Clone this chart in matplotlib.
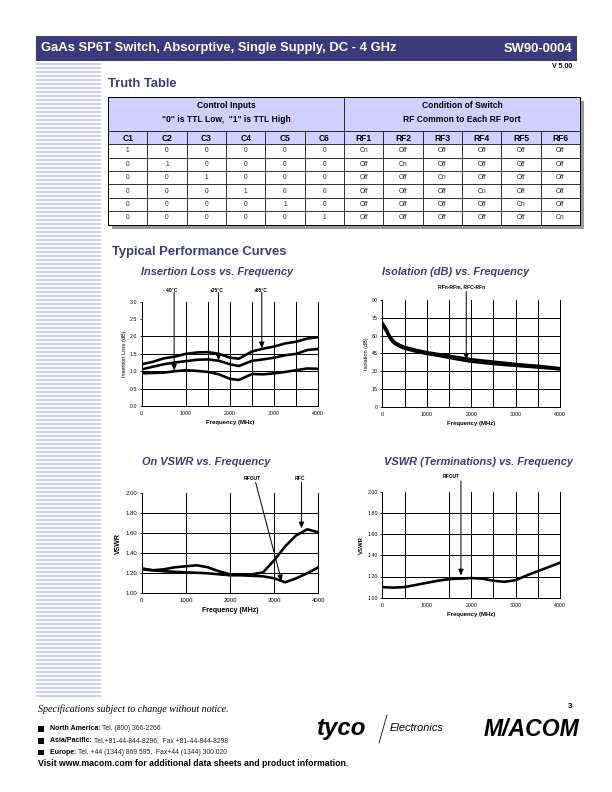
import matplotlib
matplotlib.use("Agg")
import matplotlib.pyplot as plt
from matplotlib.patches import Rectangle

plt.rcParams['font.family'] = ['Liberation Sans', 'DejaVu Sans']

NAVY = '#3b3a7c'
LAV = '#ccccff'
W, H = 612, 792

# ---- truth table ----
ctrl_cols = ['C1', 'C2', 'C3', 'C4', 'C5', 'C6']
rf_cols = ['RF1', 'RF2', 'RF3', 'RF4', 'RF5', 'RF6']
ctrl_rows = [
    [1, 0, 0, 0, 0, 0],
    [0, 1, 0, 0, 0, 0],
    [0, 0, 1, 0, 0, 0],
    [0, 0, 0, 1, 0, 0],
    [0, 0, 0, 0, 1, 0],
    [0, 0, 0, 0, 0, 1],
]
rf_rows = [
    ['On', 'Off', 'Off', 'Off', 'Off', 'Off'],
    ['Off', 'On', 'Off', 'Off', 'Off', 'Off'],
    ['Off', 'Off', 'On', 'Off', 'Off', 'Off'],
    ['Off', 'Off', 'Off', 'On', 'Off', 'Off'],
    ['Off', 'Off', 'Off', 'Off', 'On', 'Off'],
    ['Off', 'Off', 'Off', 'Off', 'Off', 'On'],
]

# ---- insertion loss (dB) ----
il_freq = [0, 250, 500, 750, 1000, 1250, 1500, 1750, 2000, 2200, 2500, 2750, 3000, 3250, 3500, 3750, 4000]
il_p85 = [1.20, 1.27, 1.37, 1.42, 1.50, 1.54, 1.55, 1.50, 1.39, 1.36, 1.57, 1.65, 1.71, 1.80, 1.85, 1.94, 1.98]
il_p25 = [1.05, 1.13, 1.20, 1.25, 1.29, 1.33, 1.34, 1.30, 1.20, 1.15, 1.30, 1.34, 1.39, 1.46, 1.50, 1.61, 1.64]
il_m40 = [0.94, 0.95, 0.96, 1.00, 1.03, 1.01, 0.98, 0.91, 0.78, 0.75, 0.92, 0.91, 0.94, 0.98, 1.03, 1.08, 1.07]

# ---- isolation (dB) ----
iso_freq = [0, 50, 100, 150, 200, 250, 300, 400, 500, 750, 1000, 1250, 1500, 1750, 2000,
            2250, 2500, 2750, 3000, 3250, 3500, 3750, 4000]
iso_hi = [71, 68, 65, 61, 58, 55.5, 54, 52, 50.5, 48, 46, 44.5, 43, 41.5, 40,
          39, 38, 37, 36, 35.2, 34.5, 33.5, 32.5]
iso_lo = [69, 66, 63, 59, 56, 54, 52.5, 50.5, 49, 46.5, 44.5, 43, 41.2, 39.5, 38,
          37, 36, 35.2, 34.5, 33.8, 33.0, 32.3, 31.5]

# ---- on VSWR ----
vs_freq = [0, 250, 500, 750, 1000, 1250, 1500, 1750, 2000, 2250, 2500, 2750, 3000, 3250, 3500, 3750, 4000]
vs_rfc = [1.25, 1.23, 1.24, 1.26, 1.27, 1.28, 1.26, 1.22, 1.19, 1.19, 1.19, 1.21, 1.33, 1.47, 1.58, 1.64, 1.61]
vs_rfout = [1.24, 1.23, 1.22, 1.215, 1.21, 1.205, 1.20, 1.19, 1.18, 1.18, 1.175, 1.17, 1.15, 1.11, 1.15, 1.20, 1.26]

# ---- VSWR terminations ----
term_rfout = [1.10, 1.095, 1.10, 1.12, 1.14, 1.16, 1.175, 1.18, 1.185, 1.18, 1.16, 1.15, 1.165, 1.21, 1.25, 1.29, 1.33]


fig = plt.figure(figsize=(W / 72, H / 72), dpi=72)
page = fig.add_axes([0, 0, 1, 1])
page.set_xlim(0, W)
page.set_ylim(H, 0)
page.axis('off')


def px_axes(x0, y0, x1, y1):
    return fig.add_axes([x0 / W, 1 - y1 / H, (x1 - x0) / W, (y1 - y0) / H])


# header bar and stripes
page.add_patch(Rectangle((36, 36), 541, 25, color=NAVY, lw=0))
page.text(41, 48.5, 'GaAs SP6T Switch, Absorptive, Single Supply, DC - 4 GHz',
          color='white', fontsize=13, fontweight='bold', va='center')
page.text(572, 48.5, 'SW90-0004', color='white', fontsize=13, fontweight='bold',
          va='center', ha='right')
page.text(572, 67, 'V 5.00', fontsize=7, fontweight='bold', va='center', ha='right')
y = 63
while y < 697:
    page.add_patch(Rectangle((36, y), 65, 2, color=LAV, lw=0))
    y += 4

page.text(108, 84, 'Truth Table', color=NAVY, fontsize=13, fontweight='bold', va='center')
page.text(112, 252, 'Typical Performance Curves', color=NAVY, fontsize=13,
          fontweight='bold', va='center')

# truth table
tl, tr, tt, tb = 108, 580, 96.5, 224.5
hdr_b = 131
col_b = 144.3
cw = (tr - tl) / 12
rh = (tb - col_b) / 6
page.add_patch(Rectangle((tl + 4, tt + 4), tr - tl, tb - tt, color='#9a9a9a', lw=0))
page.add_patch(Rectangle((tl, tt), tr - tl, tb - tt, facecolor='white', edgecolor='none'))
page.add_patch(Rectangle((tl, tt), tr - tl, col_b - tt, facecolor='#d0d0ff', edgecolor='none'))
page.add_patch(Rectangle((tl, tt), tr - tl, tb - tt, facecolor='none', edgecolor='black', lw=1))
page.plot([tl, tr], [hdr_b, hdr_b], color='black', lw=0.8)
for k in range(7):
    yy = col_b + k * rh
    page.plot([tl, tr], [yy, yy], color='black', lw=0.8)
for k in range(1, 12):
    xx = tl + k * cw
    page.plot([xx, xx], [tt if k == 6 else hdr_b, tb], color='black', lw=0.8)
hdr = dict(fontsize=8.5, fontweight='bold', ha='center', va='center')
page.text(tl + 3 * cw, 105, 'Control Inputs', **hdr)
page.text(tl + 3 * cw, 120, '"0" is TTL Low,  "1" is TTL High', **hdr)
page.text(tl + 9 * cw, 105, 'Condition of Switch', **hdr)
page.text(tl + 9 * cw, 120, 'RF Common to Each RF Port', **hdr)
for k, name in enumerate(ctrl_cols + rf_cols):
    page.text(tl + (k + 0.5) * cw, (hdr_b + col_b) / 2 + 0.5, name, **hdr)
for r in range(6):
    cells = [str(v) for v in ctrl_rows[r]] + rf_rows[r]
    for k, s in enumerate(cells):
        page.text(tl + (k + 0.5) * cw, col_b + (r + 0.5) * rh, s, fontsize=6.5,
                  ha='center', va='center', color='#222222')


def style_chart(ax, ylim, yticks, yfmt, hgrid, vgrid, ylabel, xlabel, lab_fs, ylab_bold, tick_fs):
    ax.set_xlim(0, 4000)
    ax.set_ylim(*ylim)
    ax.set_xticks([0, 1000, 2000, 3000, 4000])
    ax.set_yticks(yticks)
    ax.set_yticklabels([yfmt.format(v) for v in yticks])
    ax.tick_params(labelsize=tick_fs, length=2.5, width=0.8, pad=2)
    ax.tick_params(axis='x', length=0, pad=5)
    for v in hgrid:
        ax.axhline(v, color='black', lw=1, zorder=1)
    for v in vgrid:
        ax.axvline(v, color='black', lw=1, zorder=1)
    ax.spines['top'].set_visible(False)
    for s in ['left', 'bottom', 'right']:
        ax.spines[s].set_linewidth(1)
    ax.set_ylabel(ylabel, fontsize=lab_fs if ylab_bold else 5.5,
                  fontweight='bold' if ylab_bold else 'normal', labelpad=3)
    ax.set_xlabel(xlabel, fontsize=lab_fs, fontweight='bold', labelpad=4)


def arrow(ax, start, tip):
    ax.annotate('', xy=tip, xytext=start, annotation_clip=False,
                arrowprops=dict(arrowstyle='-|>,head_length=0.5,head_width=0.22',
                                color='black', lw=1, shrinkA=0, shrinkB=0))


def label(ax, x, yv, s):
    ax.text(x, yv, s, fontsize=5, fontweight='bold', ha='center', va='center', clip_on=False)


curve = dict(color='black', lw=2.6, solid_joinstyle='round', solid_capstyle='round', zorder=3)
title = dict(color=NAVY, fontsize=11, fontweight='bold', style='italic', ha='center', va='center')

# insertion loss
page.text(217, 272, 'Insertion Loss vs. Frequency', **title)
ax1 = px_axes(141.7, 301.7, 318.3, 406)
style_chart(ax1, (0, 3), [0, 0.5, 1.0, 1.5, 2.0, 2.5, 3.0], '{:.1f}',
            [0.5, 1.0, 1.5, 2.0], [1000, 1500, 2000, 2500, 3000, 3500],
            'Insertion Loss (dB)', 'Frequency (MHz)', 6, False, 5.2)
ax1.plot(il_freq, il_p85, **curve)
ax1.plot(il_freq, il_p25, **curve)
ax1.plot(il_freq, il_m40, **curve)
label(ax1, 640, 3.33, '- 40°C')
label(ax1, 1700, 3.33, '+25°C')
label(ax1, 2690, 3.33, '+85°C')
arrow(ax1, (735, 3.27), (735, 1.02))
arrow(ax1, (1740, 3.27), (1740, 1.31))
arrow(ax1, (2720, 3.27), (2720, 1.66))

# isolation
page.text(456, 272, 'Isolation (dB) vs. Frequency', **title)
ax2 = px_axes(382.3, 300, 560, 406.7)
style_chart(ax2, (0, 90), [0, 15, 30, 45, 60, 75, 90], '{:d}',
            [15, 30, 45, 60, 75], [500, 1000, 1500, 2000, 2500, 3000, 3500],
            'Isolation (dB)', 'Frequency (MHz)', 6, False, 5.2)
ax2.plot(iso_freq, iso_hi, **curve)
ax2.plot(iso_freq, iso_lo, **curve)
label(ax2, 1790, 101, 'RFn-RFm, RFC-RFn')
arrow(ax2, (1890, 97), (1890, 39.5))

# on VSWR
page.text(206, 462, 'On VSWR vs. Frequency', **title)
ax3 = px_axes(141.7, 493.3, 318.3, 593.3)
style_chart(ax3, (1.0, 2.0), [1.0, 1.2, 1.4, 1.6, 1.8, 2.0], '{:.2f}',
            [1.2, 1.4, 1.6, 1.8], [1000, 2000, 3000],
            'VSWR', 'Frequency (MHz)', 7, True, 6)
ax3.plot(vs_freq, vs_rfc, **curve)
ax3.plot(vs_freq, vs_rfout, **curve)
label(ax3, 2500, 2.15, 'RFOUT')
label(ax3, 3590, 2.15, 'RFC')
arrow(ax3, (2580, 2.11), (3170, 1.12))
arrow(ax3, (3620, 2.11), (3620, 1.65))

# VSWR terminations
page.text(478, 462, 'VSWR (Terminations) vs. Frequency', **title)
ax4 = px_axes(382.3, 491.7, 560, 597.7)
style_chart(ax4, (1.0, 2.0), [1.0, 1.2, 1.4, 1.6, 1.8, 2.0], '{:.2f}',
            [1.2, 1.4, 1.6, 1.8], [500, 1500, 2000, 2500, 3000, 3500],
            'VSWR', 'Frequency (MHz)', 6, True, 5.2)
ax4.plot(vs_freq, term_rfout, **curve)
label(ax4, 1560, 2.14, 'RFOUT')
arrow(ax4, (1770, 2.1), (1770, 1.21))

# footer
page.text(38, 709, 'Specifications subject to change without notice.', fontsize=10,
          family=['Liberation Serif', 'DejaVu Serif'], style='italic', va='center')
contacts = [
    ('North America:', 'Tel. (800) 366-2266', 729),
    ('Asia/Pacific:', 'Tel.+81-44-844-8296,  Fax +81-44-844-8298', 741),
    ('Europe:', 'Tel. +44 (1344) 869 595,  Fax+44 (1344) 300 020', 752.5),
]
for head, body, yy in contacts:
    page.add_patch(Rectangle((38, yy - 2.8), 5.5, 5.5, color='black', lw=0))
    t = page.text(50, yy, head + ' ', fontsize=7, fontweight='bold', va='center')
    page.annotate(body, xy=(1, 0.5), xycoords=t, fontsize=6.8, va='center', color='#222222')
page.text(38, 763.5, 'Visit www.macom.com for additional data sheets and product information.',
          fontsize=8.8, fontweight='bold', va='center')
page.text(572, 706, '3', fontsize=8, fontweight='bold', va='center', ha='right')

page.text(317, 728, 'tyco', fontsize=24, fontweight='heavy', style='italic', va='center')
page.plot([387, 379], [715, 743], color='black', lw=0.8)
page.text(390, 728, 'Electronics', fontsize=11, style='italic', va='center')
page.text(531, 730, 'M/ACOM', fontsize=23, fontweight='heavy', style='italic',
          va='center', ha='center')

fig.savefig('out.png', dpi=72)
